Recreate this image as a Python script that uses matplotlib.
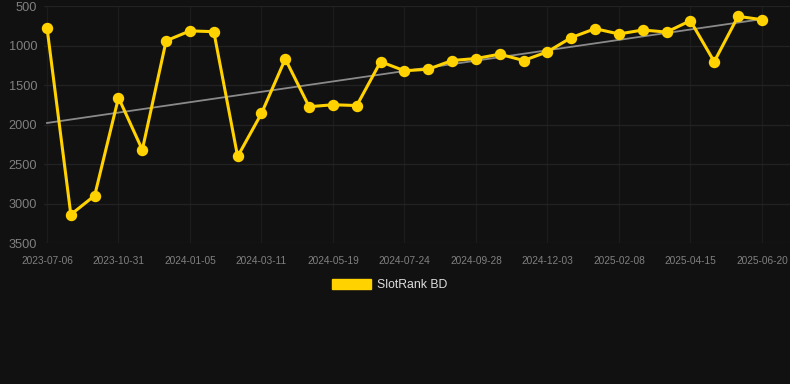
import matplotlib
matplotlib.use("Agg")
import matplotlib.pyplot as plt
from matplotlib.patches import Patch
import numpy as np

tick_labels = ["2023-07-06", "2023-10-31", "2024-01-05", "2024-03-11", "2024-05-19",
               "2024-07-24", "2024-09-28", "2024-12-03", "2025-02-08", "2025-04-15",
               "2025-06-20"]
ranks = [775, 3140, 2900, 1660, 2320, 940, 815, 825, 2405, 1860, 1170,
         1775, 1750, 1760, 1205, 1320, 1300, 1190, 1165, 1110, 1190, 1080,
         900, 787, 854, 804, 830, 686, 1205, 631, 673]
series_name = "SlotRank BD"

BG = "#111111"
YELLOW = "#ffd200"

fig = plt.figure(figsize=(7.9, 3.84), dpi=100, facecolor=BG)
ax = fig.add_axes([44/790, 1-243/384, 746/790, 237/384])
ax.set_facecolor(BG)

x = np.arange(len(ranks))
ax.plot(x, ranks, color=YELLOW, lw=2.2, marker="o", ms=7.2, zorder=3,
        solid_joinstyle="round", clip_on=False)

coef = np.polyfit(x, ranks, 1)
ax.plot([x[0], x[-1]], np.polyval(coef, [x[0], x[-1]]), color="#8a8a8a", lw=1.3, zorder=2)

ax.set_ylim(3500, 500)
ax.set_yticks([500, 1000, 1500, 2000, 2500, 3000, 3500])
ax.set_xlim(-0.126, 31.18)
ax.set_xticks(x[::3])
ax.set_xticklabels(tick_labels)

for s in ax.spines.values():
    s.set_visible(False)
ax.grid(True, axis="y", color="#222222", lw=0.9)
ax.grid(True, axis="x", color="#1c1c1c", lw=0.9)
ax.set_axisbelow(True)
ax.tick_params(axis="both", length=0, colors="#808080")
for lab in ax.get_xticklabels():
    lab.set_fontfamily("Liberation Sans")
    lab.set_fontsize(7.3)
for lab in ax.get_yticklabels():
    lab.set_fontfamily("Liberation Sans")
    lab.set_fontsize(9.2)
ax.tick_params(axis="x", pad=9)
ax.tick_params(axis="y", pad=5)

leg = fig.legend(handles=[Patch(facecolor=YELLOW, edgecolor=YELLOW)], labels=[series_name],
                 loc="center", bbox_to_anchor=(390/790, 1-285/384), frameon=False,
                 prop={"family": "Liberation Sans", "size": 8.8},
                 handlelength=3.2, handleheight=0.9, handletextpad=0.5)
for t in leg.get_texts():
    t.set_color("#dddddd")

fig.savefig("out.png", dpi=100, facecolor=BG)
